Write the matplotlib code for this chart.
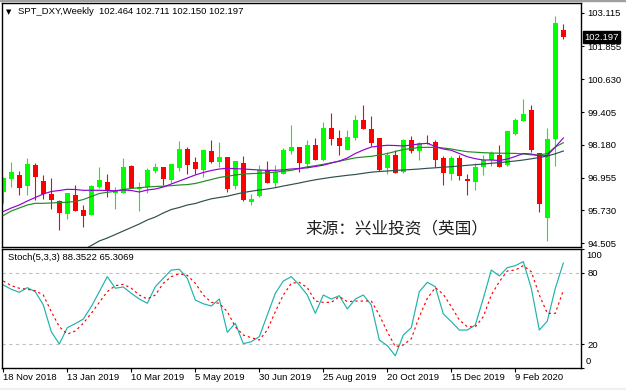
import matplotlib
matplotlib.use("Agg")
import matplotlib.pyplot as plt
from matplotlib.patches import Rectangle
from matplotlib.transforms import blended_transform_factory
import numpy as np

nan = np.nan

# weekly candles, bar 0 = week of 18 Nov 2018
opens = [96.432, 96.917, 97.055, 96.656, 97.429, 96.831, 96.346, 96.084, 95.599, 96.308,
         95.748, 95.562, 96.618, 96.794, 96.394, 96.372, 97.391, 96.543, 96.596, 97.204,
         97.354, 96.868, 97.327, 98.026, 97.540, 97.242, 97.951, 97.552, 97.727, 96.644,
         97.503, 96.058, 96.282, 97.242, 96.756, 97.092, 97.951, 98.100, 97.466, 98.175,
         97.615, 98.810, 98.436, 97.988, 98.436, 99.108, 98.772, 98.436, 97.316, 97.790,
         97.178, 98.362, 97.951, 98.250, 98.287, 97.690, 97.104, 97.690, 96.895, 96.805,
         97.354, 97.615, 97.790, 97.417, 98.586, 99.071, 99.482, 97.877, 95.461, 98.399,
         102.464]
highs = [96.980, 97.540, 97.204, 97.690, 97.492, 97.055, 96.943, 96.122, 96.394, 96.682,
         95.924, 96.682, 97.365, 97.092, 96.596, 97.690, 97.417, 96.794, 97.305, 97.492,
         97.354, 97.466, 98.324, 98.100, 97.727, 97.988, 98.362, 98.287, 97.727, 97.578,
         97.764, 96.346, 97.429, 97.578, 97.429, 98.063, 98.918, 98.100, 98.362, 98.436,
         99.034, 99.370, 98.735, 98.735, 99.295, 99.669, 99.258, 98.436, 97.914, 97.988,
         98.388, 98.511, 98.287, 98.548, 98.362, 97.764, 97.764, 97.790, 97.092, 97.503,
         97.802, 97.951, 98.175, 98.698, 99.183, 99.893, 99.669, 97.877, 98.810, 102.992,
         102.711]
lows = [96.021, 96.596, 96.308, 96.308, 96.122, 96.148, 95.797, 95.001, 95.423, 95.711,
        95.125, 95.550, 96.558, 96.245, 95.785, 96.372, 96.558, 95.699, 96.372, 97.118,
        96.682, 96.745, 97.216, 97.092, 97.111, 96.992, 97.514, 97.365, 96.432, 96.532,
        96.084, 95.934, 96.245, 96.756, 96.607, 97.092, 97.839, 97.167, 97.328, 97.615,
        97.578, 98.175, 97.802, 97.988, 98.362, 98.772, 98.138, 97.204, 97.103, 97.141,
        97.141, 97.865, 97.615, 98.194, 97.365, 96.693, 96.879, 96.879, 96.320, 96.506,
        97.066, 97.391, 97.354, 97.391, 98.548, 99.071, 97.914, 95.685, 94.602, 97.391,
        102.150]
closes = [96.954, 97.167, 96.581, 97.466, 96.980, 96.335, 96.122, 95.648, 96.372, 95.722,
          95.524, 96.644, 96.868, 96.458, 96.458, 97.354, 96.581, 96.596, 97.242, 97.365,
          96.917, 97.466, 98.026, 97.439, 97.279, 97.988, 97.552, 97.727, 96.532, 97.578,
          96.122, 96.159, 97.230, 96.756, 97.167, 97.988, 98.100, 97.503, 98.175, 97.615,
          98.810, 98.410, 98.138, 98.474, 99.108, 98.784, 98.261, 97.242, 97.790, 97.141,
          98.362, 97.951, 98.238, 98.194, 97.615, 97.141, 97.690, 97.006, 96.842, 97.342,
          97.604, 97.865, 97.354, 98.698, 99.108, 99.333, 97.988, 95.972, 98.399, 102.719,
          102.197]

# moving averages
ma_fast = [95.692, 95.823, 95.935, 96.084, 96.215, 96.346, 96.439, 96.476, 96.521, 96.514,
           96.484, 96.484, 96.484, 96.476, 96.469, 96.495, 96.476, 96.420, 96.495, 96.532,
           96.607, 96.719, 96.831, 96.943, 97.055, 97.148, 97.223, 97.279, 97.305, 97.290,
           97.279, 97.260, 97.242, 97.230, 97.230, 97.249, 97.279, 97.298, 97.324, 97.372,
           97.421, 97.503, 97.578, 97.690, 97.858, 97.988, 98.100, 98.138, 98.164, 98.156,
           98.138, 98.175, 98.212, 98.239, 98.119, 98.026, 97.977, 97.858, 97.738, 97.664,
           97.615, 97.615, 97.596, 97.652, 97.746, 97.858, 97.839, 97.764, 97.783, 98.100,
           98.436]
ma_mid = [95.543, 95.711, 95.823, 95.935, 95.998, 95.998, 96.010, 96.028, 96.036, 96.066,
          96.140, 96.252, 96.364, 96.409, 96.447, 96.514, 96.551, 96.581, 96.607, 96.626,
          96.637, 96.656, 96.682, 96.697, 96.738, 96.812, 96.887, 96.962, 97.010, 97.055,
          97.092, 97.107, 97.118, 97.137, 97.167, 97.193, 97.230, 97.298, 97.361, 97.402,
          97.455, 97.511, 97.570, 97.634, 97.697, 97.727, 97.753, 97.802, 97.858, 97.932,
          98.007, 98.044, 98.082, 98.089, 98.082, 98.063, 98.026, 97.970, 97.925, 97.906,
          97.888, 97.876, 97.869, 97.865, 97.862, 97.839, 97.809, 97.802, 97.858, 98.100,
          98.261]
ma_slow = [nan] * 10 + [
    94.255, 94.423, 94.591, 94.703, 94.833, 94.964, 95.095, 95.226, 95.375, 95.487,
    95.636, 95.767, 95.842, 95.935, 95.991, 96.084, 96.166, 96.215, 96.263, 96.334,
    96.402, 96.450, 96.495, 96.532, 96.581, 96.644, 96.700, 96.756, 96.820, 96.876,
    96.924, 96.969, 97.006, 97.044, 97.074, 97.118, 97.160, 97.186, 97.204, 97.227,
    97.242, 97.260, 97.279, 97.305, 97.324, 97.346, 97.365, 97.391, 97.417, 97.440,
    97.466, 97.492, 97.518, 97.548, 97.578, 97.615, 97.660, 97.708, 97.764, 97.847,
    97.951]

# stochastic (5,3,3)
stoch_main = [69.9, 66.2, 63.7, 67.6, 64.2, 53.0, 30.4, 20.0, 33.8, 37.2,
              41.1, 51.6, 64.2, 76.9, 67.1, 68.2, 62.8, 58.0, 54.4, 68.4,
              75.5, 82.5, 83.1, 75.5, 57.2, 54.0, 52.1, 58.0, 29.9, 37.5,
              20.3, 22.0, 26.2, 44.5, 62.8, 73.2, 76.9, 69.9, 61.4, 45.9,
              61.4, 58.0, 60.8, 49.6, 58.0, 61.4, 53.0, 23.4, 18.6, 10.1,
              27.6, 33.8, 64.2, 72.1, 68.4, 45.4, 38.9, 31.8, 31.8, 36.1,
              58.6, 82.5, 77.5, 84.5, 86.2, 89.6, 67.1, 31.8, 39.4, 67.1,
              88.35]
stoch_signal = [73.2, 69.3, 67.1, 66.2, 65.0, 61.4, 47.3, 34.6, 28.4, 31.0,
                37.5, 45.9, 55.2, 64.2, 69.3, 70.4, 67.1, 61.4, 58.0, 61.4,
                71.3, 76.9, 79.4, 78.0, 71.3, 61.4, 55.2, 54.4, 47.3, 34.6,
                27.6, 25.3, 23.4, 31.8, 47.3, 61.4, 71.3, 72.1, 67.6, 56.3,
                55.2, 55.2, 60.0, 55.8, 56.3, 56.3, 56.3, 44.5, 30.4, 17.7,
                19.2, 24.5, 43.1, 58.6, 67.6, 62.0, 51.6, 40.3, 34.6, 34.6,
                43.1, 61.4, 72.7, 81.7, 82.5, 86.2, 81.1, 61.4, 45.9, 45.9,
                65.31]

price_ticks = [103.115, 101.855, 100.630, 99.405, 98.180, 96.955, 95.730, 94.505]
date_ticks = [0, 8, 16, 24, 32, 40, 48, 56, 64]
date_labels = ["18 Nov 2018", "13 Jan 2019", "10 Mar 2019", "5 May 2019", "30 Jun 2019",
               "25 Aug 2019", "20 Oct 2019", "15 Dec 2019", "9 Feb 2020"]

W, H = 626, 390
FONT = "Liberation Sans"
FS = 6.8

fig = plt.figure(figsize=(W / 100, H / 100), dpi=100)
fig.patch.set_facecolor("white")

# panels placed in pixels, like the terminal window
ax = fig.add_axes([2 / W, 1 - 246.7 / H, 579 / W, (246.7 - 3) / H])
st = fig.add_axes([2 / W, 1 - 367.7 / H, 579 / W, (367.7 - 249.3) / H])

idx = np.arange(len(opens))
o = np.array(opens)
c = np.array(closes)
up = c >= o
cols = np.where(up, "#00FF00", "#FF0000")

# candles
ax.vlines(idx, lows, highs, colors=cols, lw=0.8, zorder=2)
ax.bar(idx, np.maximum(np.abs(c - o), 0.03), bottom=np.minimum(o, c), width=0.6,
       color=cols, linewidth=0, zorder=2)

# moving averages
ax.plot(idx, ma_slow, color="#2F4F4F", lw=0.85, zorder=3)
ax.plot(idx, ma_mid, color="#228B22", lw=0.85, zorder=3)
ax.plot(idx, ma_fast, color="#9400D3", lw=0.85, zorder=3)

ax.set_xlim(-0.1625, 72.21)
ax.set_ylim(94.378, 103.477)
ax.yaxis.tick_right()
ax.set_yticks(price_ticks)
ax.set_yticklabels(["%.3f" % v for v in price_ticks], fontfamily=FONT, fontsize=FS)
ax.set_xticks([])
ax.tick_params(axis="y", length=2.5, width=0.8, pad=2, colors="black")
for s in ax.spines.values():
    s.set_linewidth(1)

# current price box
tr = blended_transform_factory(ax.transAxes, ax.transData)
ax.text(1.0 + 3 / 579, 102.197, "102.197", transform=tr, ha="left", va="center",
        color="white", fontfamily=FONT, fontsize=FS, zorder=5,
        bbox=dict(facecolor="black", edgecolor="black", boxstyle="square,pad=0.15"))

# watermark
ax.text(305 / W, 1 - 229 / H, "来源：兴业投资（英国）", transform=fig.transFigure,
        fontfamily=["Noto Sans CJK SC", "DejaVu Sans"], fontsize=12, color="#202020",
        ha="left", va="center", zorder=4)

# stochastic panel
st.axhline(80, color="#C0C0C0", lw=0.8, ls=(0, (3, 3)))
st.axhline(20, color="#C0C0C0", lw=0.8, ls=(0, (3, 3)))
st.plot(idx, stoch_main, color="#20B2AA", lw=0.85)
st.plot(idx, stoch_signal, color="#FF0000", lw=0.85, ls=(0, (2, 2.5)))
st.set_xlim(-0.1625, 72.21)
st.set_ylim(0, 100)
st.yaxis.tick_right()
st.set_yticks([0, 20, 80, 100])
st.set_yticklabels(["", "20", "80", ""], fontfamily=FONT, fontsize=FS)
st.tick_params(axis="y", length=2.5, width=0.8, pad=2, colors="black")
st.set_xticks(date_ticks)
st.set_xticklabels(date_labels, fontfamily=FONT, fontsize=FS, ha="left")
st.tick_params(axis="x", length=3, width=0.8, pad=1, colors="black")
for s in st.spines.values():
    s.set_linewidth(1)

# the end labels sit inside the panel
fig.text(586 / W, 1 - 255.7 / H, "100", fontfamily=FONT, fontsize=FS, va="center")
fig.text(586 / W, 1 - 361.7 / H, "0", fontfamily=FONT, fontsize=FS, va="center")

# header texts
fig.text(6 / W, 1 - 12 / H, "▼", fontfamily="DejaVu Sans", fontsize=5, va="center")
fig.text(18 / W, 1 - 12 / H, "SPT_DXY,Weekly  102.464 102.711 102.150 102.197",
         fontfamily=FONT, fontsize=FS, va="center")
fig.text(7.5 / W, 1 - 257.7 / H, "Stoch(5,3,3) 88.3522 65.3069",
         fontfamily=FONT, fontsize=FS, va="center")

# window chrome: gray strip at the bottom, thin line at the top
fig.patches.append(Rectangle((0, 0), 1, 2.5 / H, transform=fig.transFigure,
                             color="#F0F0F0", zorder=0))
fig.patches.append(Rectangle((0, 1 - 1 / H), 1, 1 / H, transform=fig.transFigure,
                             color="#A0A0A0", zorder=0))

fig.savefig("out.png", dpi=100)
